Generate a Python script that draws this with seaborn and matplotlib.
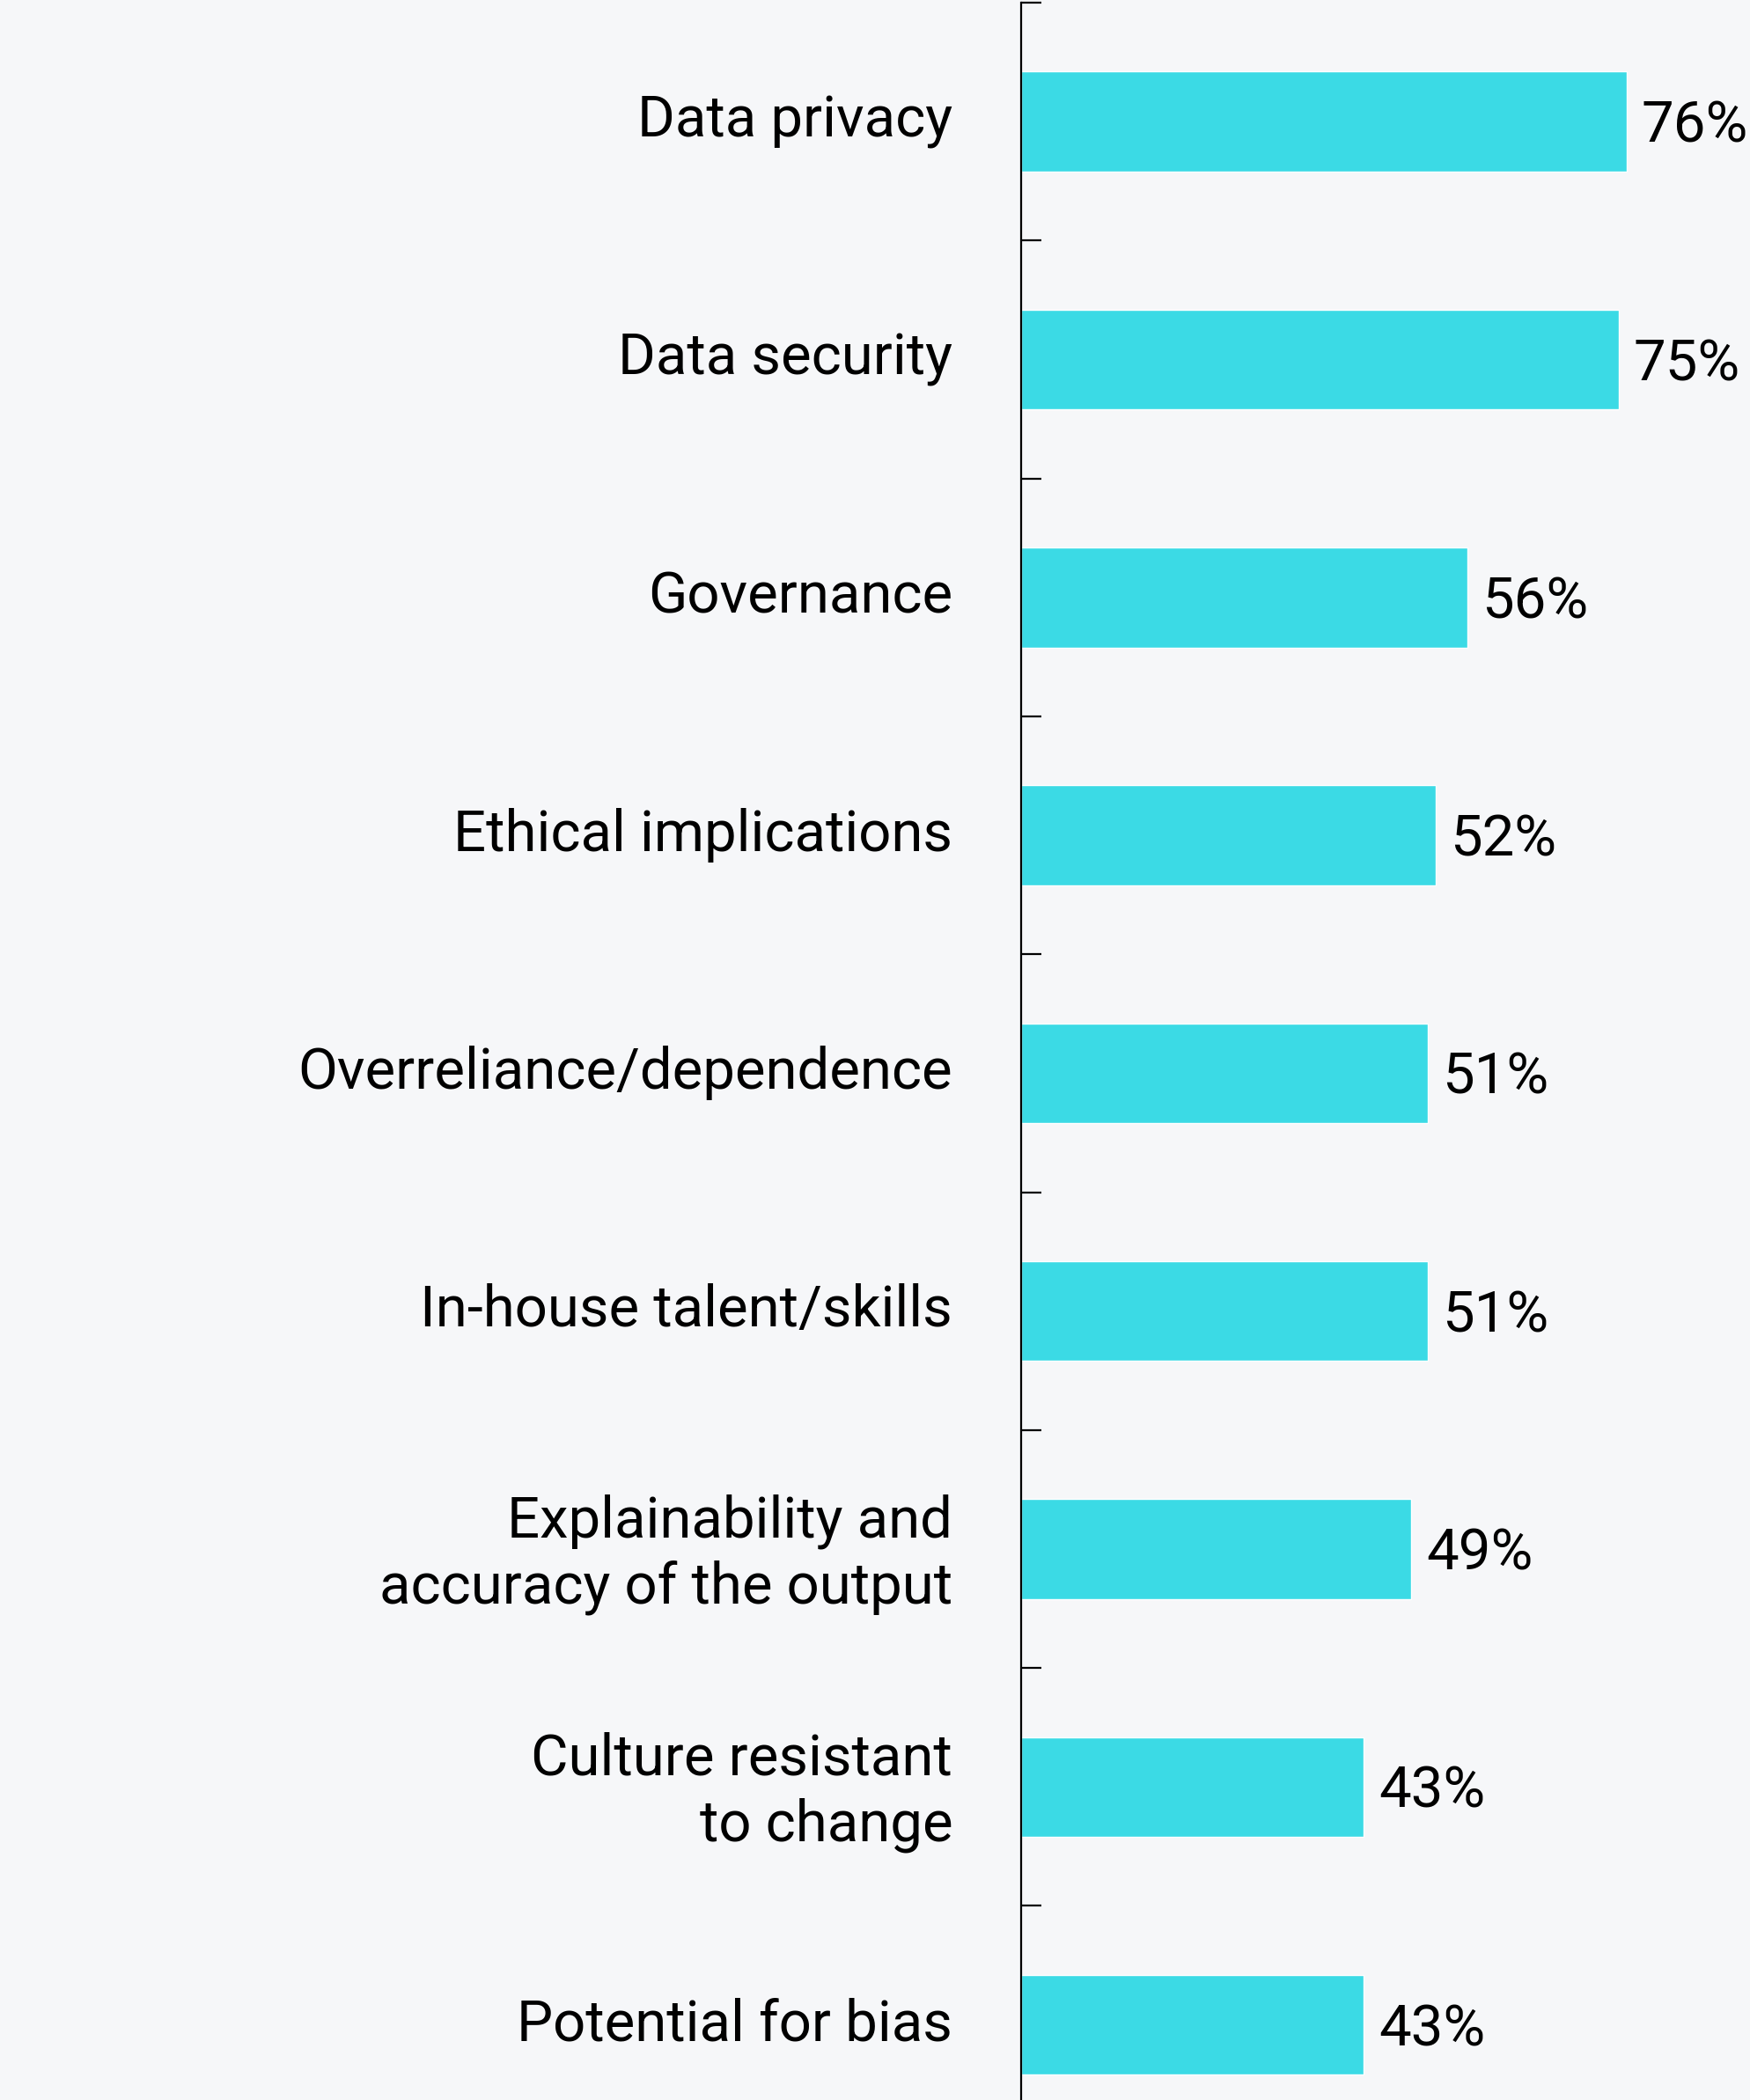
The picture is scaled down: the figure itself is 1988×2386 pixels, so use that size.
import pandas as pd
import matplotlib.pyplot as plt
import matplotlib.transforms as mtransforms
import seaborn as sns

# chart data
concerns = [
    "Data privacy",
    "Data security",
    "Governance",
    "Ethical implications",
    "Overreliance/dependence",
    "In-house talent/skills",
    "Explainability and\naccuracy of the output",
    "Culture resistant\nto change",
    "Potential for bias",
]
shares = [76, 75, 56, 52, 51, 51, 49, 43, 43]

df = pd.DataFrame({"concern": concerns, "share": shares})

bg = "#f6f7f9"
bar_color = "#3bdae5"

sns.set_style("white")
plt.rcParams["font.family"] = ["Roboto", "DejaVu Sans"]

fig = plt.figure(figsize=(19.88, 23.86), dpi=100, facecolor=bg)
ax = fig.add_axes([1160 / 1988, 0, 1 - 1160 / 1988, 1 - 3 / 2386])
ax.set_facecolor(bg)

sns.barplot(data=df, x="share", y="concern", color=bar_color, width=0.42,
            saturation=1, ax=ax)

ax.set_xlabel("")
ax.set_ylabel("")
ax.set_xticks([])

for side in ["top", "right", "bottom"]:
    ax.spines[side].set_visible(False)
ax.spines["left"].set_color("black")
ax.spines["left"].set_linewidth(1.6)

# ticks between categories, no ticks at labels
ax.set_yticks([i - 0.5 for i in range(10)], minor=True)
ax.tick_params(axis="y", which="minor", direction="in", length=16.5, width=1.6,
               color="black", left=True)
ax.tick_params(axis="y", which="major", length=0, pad=56, labelsize=47,
               labelcolor="black")
up = mtransforms.ScaledTranslation(0, 5 / 72, fig.dpi_scale_trans)
for lab in ax.get_yticklabels():
    lab.set_horizontalalignment("right")
    lab.set_multialignment("right")
    lab.set_linespacing(1.25)
    lab.set_transform(lab.get_transform() + up)

texts = ax.bar_label(ax.containers[0], labels=[f"{v}%" for v in shares],
                     padding=12, fontsize=47, color="black", clip_on=False)
for t in texts:
    t.xyann = (12, -4)

# limits last, set_yticks would widen them
ax.set_xlim(0, 91.5)
ax.set_ylim(8.316, -0.5)

fig.savefig("out.png", dpi=100, facecolor=bg)
